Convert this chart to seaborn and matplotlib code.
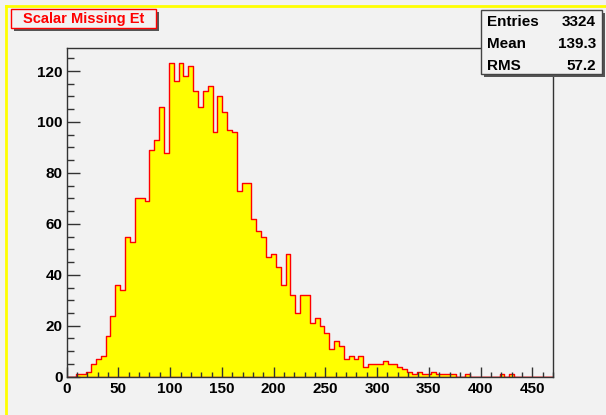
import numpy as np
import pandas as pd
import matplotlib
matplotlib.use("Agg")
import matplotlib.pyplot as plt
from matplotlib.patches import Rectangle
from matplotlib.ticker import MultipleLocator
import seaborn as sns

# bin contents, 100 bins of width 4.7 between 0 and 470
counts = [0, 0, 1, 1, 2, 5, 7, 8, 16, 24,
          36, 34, 55, 53, 70, 70, 69, 89, 93, 106,
          88, 123, 116, 123, 118, 122, 112, 106, 112, 114,
          96, 110, 104, 97, 96, 73, 76, 76, 62, 57,
          55, 47, 48, 43, 36, 48, 32, 25, 32, 32,
          21, 23, 20, 17, 11, 14, 12, 7, 8, 7,
          8, 4, 5, 5, 5, 6, 5, 5, 4, 3,
          2, 1, 2, 1, 1, 2, 1, 1, 1, 1,
          0, 0, 1, 0, 0, 0, 0, 0, 0, 1,
          0, 1, 0, 0, 0, 0, 0, 0, 0, 0]
x_min, x_max, n_bins = 0, 470, 100
title = "Scalar Missing Et"
stat_names = ["Entries", "Mean", "RMS"]
stat_values = ["3324", "139.3", "57.2"]

edges = np.linspace(x_min, x_max, n_bins + 1)
centers = (edges[:-1] + edges[1:]) / 2
df = pd.DataFrame({"x": centers, "w": counts})

bg = "#f2f2f2"
fig = plt.figure(figsize=(6.06, 4.15), dpi=100, facecolor=bg)
ax = fig.add_axes([66.7 / 606, 1 - 376.7 / 415, (553 - 66.7) / 606, (376.7 - 47.7) / 415])
ax.set_facecolor(bg)

sns.histplot(data=df, x="x", weights="w", bins=n_bins, binrange=(x_min, x_max),
             element="step", fill=True, facecolor="#ffff00", edgecolor="#ff0000",
             linewidth=1.0, alpha=1, ax=ax)

ax.set_xlim(x_min, x_max)
ax.set_ylim(0, max(counts) * 1.05)
ax.set_xlabel("")
ax.set_ylabel("")
ax.xaxis.set_major_locator(MultipleLocator(50))
ax.xaxis.set_minor_locator(MultipleLocator(10))
ax.yaxis.set_major_locator(MultipleLocator(20))
ax.yaxis.set_minor_locator(MultipleLocator(5))
ax.tick_params(which="both", direction="in", color="#333333", width=1,
               top=False, right=False)
ax.tick_params(axis="x", which="major", length=7.2, pad=4)
ax.tick_params(axis="x", which="minor", length=3.6)
ax.tick_params(axis="y", which="major", length=9.4, pad=3)
ax.tick_params(axis="y", which="minor", length=5)
for lab in ax.get_xticklabels() + ax.get_yticklabels():
    lab.set_fontweight("bold")
    lab.set_fontfamily("Liberation Sans")
    lab.set_fontsize(11)
for s in ax.spines.values():
    s.set_color("#333333")
    s.set_linewidth(1)

# yellow frame lines on top and left of the canvas
fig.add_artist(plt.Line2D([5.5 / 606, 1], [1 - 6.5 / 415] * 2, color="#ffff00", lw=2))
fig.add_artist(plt.Line2D([5.5 / 606] * 2, [0, 1 - 6.5 / 415], color="#ffff00", lw=2))


def px_box(x0, y0, x1, y1, edge):
    # shadow then box, given in pixel coords from top-left
    fig.add_artist(Rectangle((x0 / 606 + 3 / 606, 1 - y1 / 415 - 3 / 415),
                             (x1 - x0) / 606, (y1 - y0) / 415,
                             facecolor="#555555", edgecolor="none"))
    fig.add_artist(Rectangle((x0 / 606, 1 - y1 / 415), (x1 - x0) / 606, (y1 - y0) / 415,
                             facecolor=bg, edgecolor=edge, lw=1))


px_box(11, 9, 156, 28, "#ff0000")
fig.text(83.5 / 606, 1 - 18.5 / 415, title, color="#ff0000", fontweight="bold",
         fontfamily="Liberation Sans", fontsize=10.5, ha="center", va="center")

px_box(481, 10, 602, 74, "#444444")
for i, (n, v) in enumerate(zip(stat_names, stat_values)):
    yy = 1 - (21.7 + 22 * i) / 415
    fig.text(486.5 / 606, yy, n, fontweight="bold", fontfamily="Liberation Sans",
             fontsize=11, ha="left", va="center")
    fig.text(596 / 606, yy, v, fontweight="bold", fontfamily="Liberation Sans",
             fontsize=11, ha="right", va="center")

fig.savefig("out.png", dpi=100, facecolor=bg)
